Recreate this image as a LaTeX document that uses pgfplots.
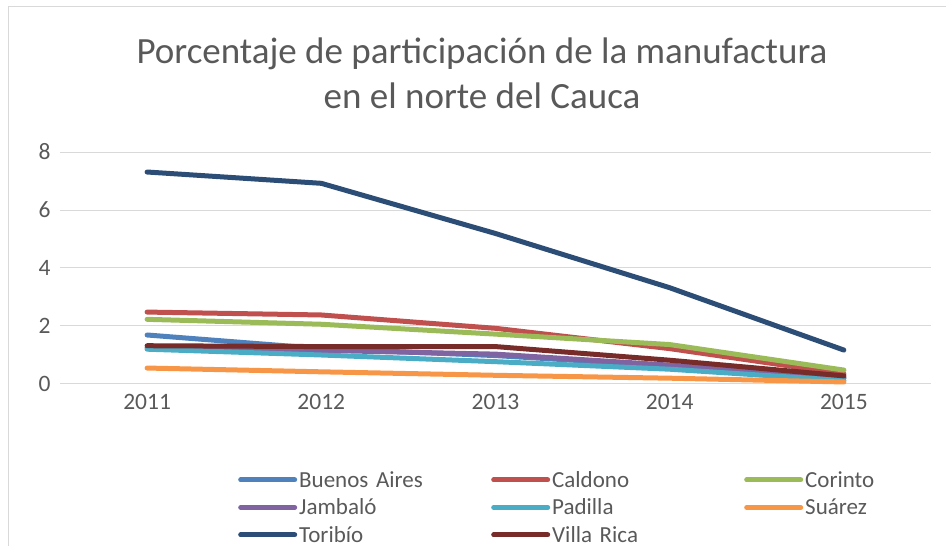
\documentclass[border=0pt]{standalone}
\usepackage{fontspec}
\setmainfont{Carlito}
\usepackage{pgfplots}
\pgfplotsset{compat=1.18}
\definecolor{cBA}{HTML}{4F81BD}
\definecolor{cCA}{HTML}{C0504D}
\definecolor{cCO}{HTML}{9BBB59}
\definecolor{cJA}{HTML}{8064A2}
\definecolor{cPA}{HTML}{4BACC6}
\definecolor{cSU}{HTML}{F79646}
\definecolor{cTO}{HTML}{2C4D75}
\definecolor{cVR}{HTML}{772C2A}
\definecolor{txt}{HTML}{595959}
\definecolor{grd}{HTML}{D9D9D9}
\begin{document}
\begin{tikzpicture}[x=1pt,y=1pt]
\path[use as bounding box] (0,0) rectangle (946,546);
\draw[grd, line width=1pt] (8,0) -- (8,539) -- (946,539);
\node[txt, font=\fontsize{37}{44}\selectfont] at (482,492) {Porcentaje de participación de la manufactura};
\node[txt, font=\fontsize{37}{44}\selectfont] at (482,450) {en el norte del Cauca};
\begin{axis}[
  at={(60pt,162pt)}, anchor=south west,
  scale only axis, width=871pt, height=232pt,
  xmin=0.5, xmax=5.5, ymin=0, ymax=8,
  xtick={1,2,3,4,5}, xticklabels={2011,2012,2013,2014,2015},
  ytick={0,2,4,6,8},
  ymajorgrids, grid style={grd, line width=1pt},
  axis line style={draw=none}, major tick length=0pt,
  /pgf/number format/assume math mode=true,
  tick label style={txt, font=\fontsize{23.5}{28}\selectfont},
  xticklabel style={yshift=-7pt},
  yticklabel style={xshift=-6pt},
  clip=false,
  legend columns=3,
  legend style={at={(178pt,-85pt)}, anchor=north west, draw=none, fill=none,
    inner sep=0pt, row sep=6pt,
    font=\fontsize{23}{27}\selectfont, text=txt,
    nodes={text width=190pt, align=left, inner sep=2pt}},
  legend cell align=left,
  legend image code/.code={\draw[#1, line width=5pt, line cap=round] (0pt,0pt) -- (54pt,0pt);},
  every axis plot/.append style={line width=5pt, line cap=round, line join=round},
]
\addplot[cBA] coordinates {(1,1.69) (2,1.22) (3,0.98) (4,0.62) (5,0.20)};
\addlegendentry{Buenos Aires}
\addplot[cCA] coordinates {(1,2.48) (2,2.38) (3,1.92) (4,1.22) (5,0.35)};
\addlegendentry{Caldono}
\addplot[cCO] coordinates {(1,2.23) (2,2.06) (3,1.72) (4,1.36) (5,0.48)};
\addlegendentry{Corinto}
\addplot[cJA] coordinates {(1,1.25) (2,1.16) (3,1.03) (4,0.65) (5,0.22)};
\addlegendentry{Jambaló}
\addplot[cPA] coordinates {(1,1.20) (2,1.00) (3,0.77) (4,0.51) (5,0.12)};
\addlegendentry{Padilla}
\addplot[cSU] coordinates {(1,0.55) (2,0.42) (3,0.30) (4,0.20) (5,0.07)};
\addlegendentry{Suárez}
\addplot[cTO] coordinates {(1,7.31) (2,6.92) (3,5.19) (4,3.32) (5,1.17)};
\addlegendentry{Toribío}
\addplot[cVR] coordinates {(1,1.32) (2,1.29) (3,1.29) (4,0.82) (5,0.28)};
\addlegendentry{Villa Rica}
\end{axis}
\end{tikzpicture}
\end{document}
